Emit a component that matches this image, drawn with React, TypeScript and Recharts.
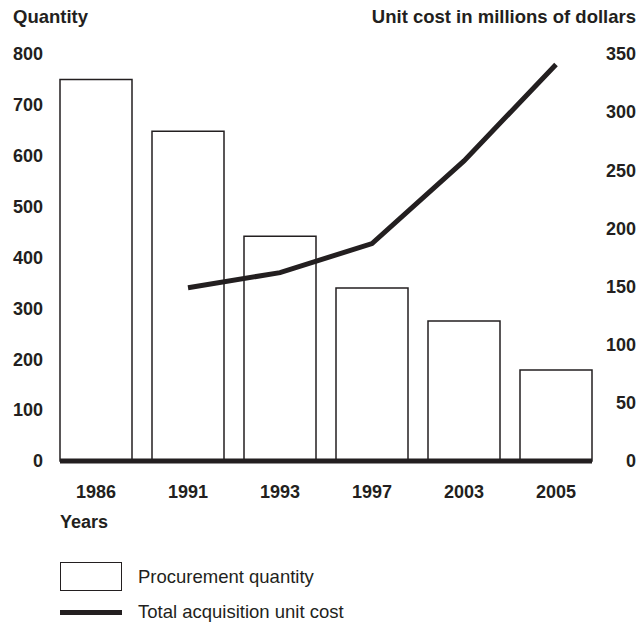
import React from 'react';
import { ComposedChart, Bar, Line, XAxis, YAxis } from 'recharts';

const years = ['1986', '1991', '1993', '1997', '2003', '2005'];
const quantity = [750, 648, 442, 340, 275, 179];
const unitCost = [null, 149, 162, 187, 258, 341];
const quantityTicks = [0, 100, 200, 300, 400, 500, 600, 700, 800];
const costTicks = [0, 50, 100, 150, 200, 250, 300, 350];

const data = years.map((year, i) => ({ year, quantity: quantity[i], cost: unitCost[i] }));

const FONT = '"Liberation Sans", Arial, Helvetica, sans-serif';
const INK = '#231f20';
const TICK_SIZE = 18;

const LeftTick = ({ x, y, payload }: any) => (
  <text x={x} y={y} dy="0.35em" textAnchor="end" fontFamily={FONT} fontSize={TICK_SIZE} fontWeight="bold" fill={INK}>
    {payload.value}
  </text>
);

const RightTick = ({ x, y, payload }: any) => (
  <text x={x} y={y} dy="0.35em" textAnchor="end" fontFamily={FONT} fontSize={TICK_SIZE} fontWeight="bold" fill={INK}>
    {payload.value}
  </text>
);

const YearTick = ({ x, y, payload }: any) => (
  <text x={x} y={y} dy="0.71em" textAnchor="middle" fontFamily={FONT} fontSize={TICK_SIZE} fontWeight="bold" fill={INK}>
    {payload.value}
  </text>
);

const label: React.CSSProperties = {
  position: 'absolute',
  fontFamily: FONT,
  color: INK,
  whiteSpace: 'nowrap',
  lineHeight: 1,
};

export default function App() {
  return (
    <div style={{ position: 'absolute', left: 0, top: 0, width: 639, height: 625, background: '#fff' }}>
      <ComposedChart width={639} height={625} data={data} margin={{ top: 54, right: 0, bottom: 0, left: 0 }} barCategoryGap={10}>
        <XAxis
          dataKey="year"
          xAxisId="x"
          height={164}
          padding={{ left: -10, right: -10 }}
          tickLine={false}
          tickSize={0}
          tickMargin={24}
          axisLine={{ stroke: INK, strokeWidth: 5 }}
          tick={<YearTick />}
          interval={0}
        />
        <YAxis
          yAxisId="left"
          orientation="left"
          width={60}
          domain={[0, 800]}
          ticks={quantityTicks}
          axisLine={false}
          tickLine={false}
          tickSize={0}
          tickMargin={17}
          tick={<LeftTick />}
          interval={0}
        />
        <YAxis
          yAxisId="right"
          orientation="right"
          width={47}
          domain={[0, 350]}
          ticks={costTicks}
          axisLine={false}
          tickLine={false}
          tickSize={0}
          tickMargin={44}
          tick={<RightTick />}
          interval={0}
        />
        <Bar
          xAxisId="x"
          yAxisId="left"
          dataKey="quantity"
          fill="#fff"
          stroke={INK}
          strokeWidth={1.5}
          isAnimationActive={false}
        />
        <Line
          xAxisId="x"
          yAxisId="right"
          dataKey="cost"
          type="linear"
          stroke={INK}
          strokeWidth={5}
          dot={false}
          activeDot={false}
          connectNulls={false}
          isAnimationActive={false}
        />
      </ComposedChart>

      <div style={{ ...label, left: 13, top: 8, fontSize: 18.5, fontWeight: 'bold' }}>Quantity</div>
      <div style={{ ...label, right: 3, top: 8, fontSize: 18.5, fontWeight: 'bold' }}>Unit cost in millions of dollars</div>
      <div style={{ ...label, left: 60, top: 513, fontSize: 18, fontWeight: 'bold' }}>Years</div>

      <div style={{ position: 'absolute', left: 60, top: 562, width: 62, height: 29, border: `1.5px solid ${INK}`, boxSizing: 'border-box' }} />
      <div style={{ ...label, left: 138, top: 568, fontSize: 18.5 }}>Procurement quantity</div>
      <div style={{ position: 'absolute', left: 60, top: 610, width: 62, height: 5, background: INK }} />
      <div style={{ ...label, left: 138, top: 603, fontSize: 18.5 }}>Total acquisition unit cost</div>
    </div>
  );
}
